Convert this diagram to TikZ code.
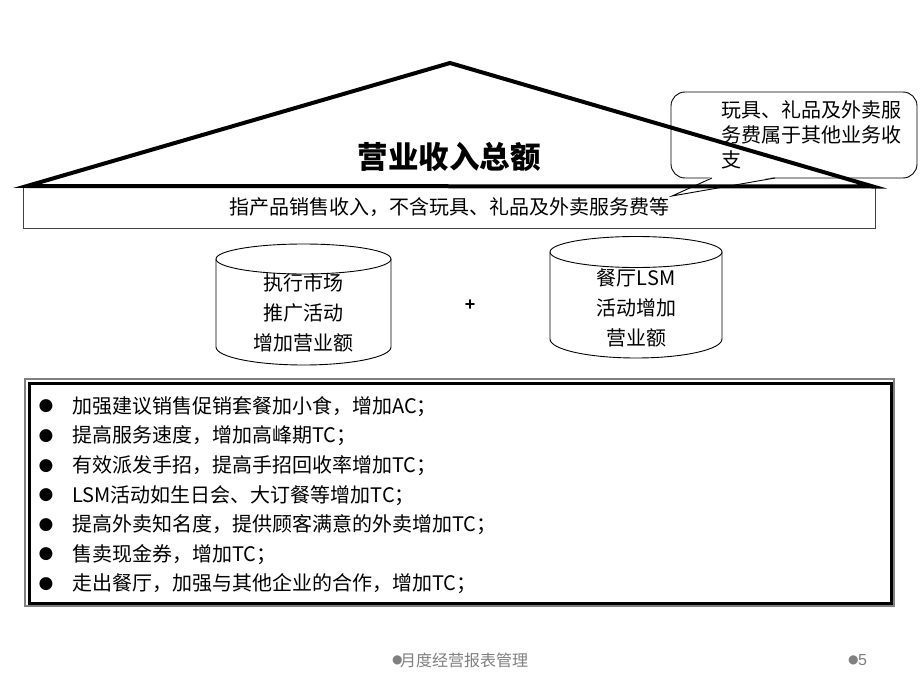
\documentclass[tikz,border=0pt]{standalone}
\usepackage{fontspec}
\setmainfont{Noto Sans CJK SC}
\newfontfamily\symfont{DejaVu Sans}
\newfontfamily\latinb{Liberation Sans}
\begin{document}
\begin{tikzpicture}[x=1pt,y=1pt,
  roof/.style={line width=4pt,line join=miter},
  txt/.style={inner sep=0pt,font=\fontsize{20}{25}\selectfont},
  cyl/.style={line width=0.9pt},
  bul/.style={inner sep=0pt,anchor=west,font=\fontsize{20}{22}\selectfont},
  foot/.style={inner sep=0pt,anchor=west,text=gray,font=\fontsize{16}{17}\selectfont}]
\useasboundingbox (0,0) rectangle (920,-690);
\fill[white] (0,0) rectangle (920,-690);

% callout (drawn first, roof on top)
\draw[line width=0.9pt,fill=white,rounded corners=14pt] (671,-92) rectangle (917,-178);
\fill[white] (712,-176.8) -- (672,-196) -- (775,-176.8) -- cycle;
\coordinate (ctip) at (672,-196);
\draw[line width=0.9pt] (712,-178) -- (ctip) -- (775,-178);
\node[txt,anchor=north west,align=left] (callout) at (721,-100)
  {玩具、礼品及外卖服\\务费属于其他业务收\\支};

% subtitle bar
\node[draw=black!75,line width=1pt,minimum width=852pt,minimum height=41pt,inner sep=0pt,
  font=\fontsize{20}{22}\selectfont] (bar) at (449,-207.5)
  {指产品销售收入，不含玩具、礼品及外卖服务费等};

% roof
\coordinate (rl) at (27,-186);
\coordinate (rt) at (450,-63);
\coordinate (rr) at (873,-186.5);
\draw[roof] (rl) -- (rt) -- (rr) -- cycle;
\node[inner sep=0pt,font=\fontsize{30.5}{33}\selectfont\bfseries] (title) at (449,-157) {营业收入总额};

% cylinder 1
\draw[cyl,fill=white] (216,-259) -- (216,-347) arc[start angle=180,end angle=360,x radius=87.5pt,y radius=18pt] -- (391,-259);
\draw[cyl] (303.5,-259) ellipse[x radius=87.5pt,y radius=15pt];
\node[txt,align=center,font=\fontsize{20}{30}\selectfont] (c1) at (303.5,-313) {执行市场\\推广活动\\增加营业额};

% cylinder 2
\draw[cyl,fill=white] (550,-252) -- (550,-339) arc[start angle=180,end angle=360,x radius=86pt,y radius=19pt] -- (722,-252);
\draw[cyl] (636,-252) ellipse[x radius=86pt,y radius=15.5pt];
\node[txt,align=center,font=\fontsize{20}{30}\selectfont] (c2) at (636,-308) {餐厅LSM\\活动增加\\营业额};

\node[inner sep=0pt,font=\latinb\bfseries\fontsize{18}{20}\selectfont] (plus) at (470,-305) {+};

% bullet box
\draw[gray,line width=1.2pt] (25,-379) rectangle (894,-606);
\node[draw=black,line width=3pt,minimum width=861.5pt,minimum height=219.5pt,inner sep=0pt] (box) at (460.25,-493.25) {};

\foreach \t [count=\i] in {加强建议销售促销套餐加小食，增加AC；,
  提高服务速度，增加高峰期TC；,
  有效派发手招，提高手招回收率增加TC；,
  LSM活动如生日会、大订餐等增加TC；,
  提高外卖知名度，提供顾客满意的外卖增加TC；,
  售卖现金券，增加TC；,
  走出餐厅，加强与其他企业的合作，增加TC；}{
  \node[bul,font=\symfont\fontsize{17}{20}\selectfont] (b\i) at (38.5,{-406.5-29.6*(\i-1)}) {●};
  \node[bul] (t\i) at (72,{-406.5-29.6*(\i-1)}) {\t};
}

% footer
\node[foot,font=\symfont\fontsize{12}{13}\selectfont] (fb1) at (392,-660) {●};
\node[foot] (f1) at (400,-660) {月度经营报表管理};
\node[foot,font=\symfont\fontsize{12}{13}\selectfont] (fb2) at (848,-660) {●};
\node[foot,font=\latinb\fontsize{16}{17}\selectfont] (f2) at (858,-660) {5};
\end{tikzpicture}
\end{document}
